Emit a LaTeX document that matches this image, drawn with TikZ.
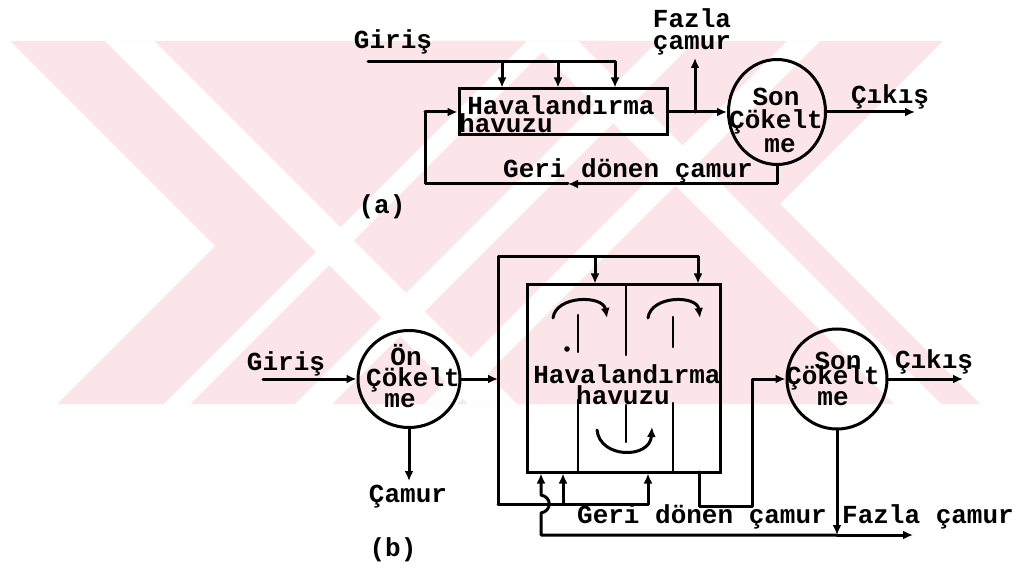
\documentclass[tikz,border=0pt]{standalone}
\usepackage{fontspec}
\setmainfont{Liberation Mono}
\usetikzlibrary{shapes.geometric,arrows.meta}
\definecolor{wmpink}{RGB}{252,229,232}
\begin{document}
\begin{tikzpicture}[x=1pt,y=-1pt,
  line/.style={line width=3pt, line join=round, line cap=round},
  thinline/.style={line width=2.2pt, line cap=round},
  arr/.style={line, -{Latex[length=10pt,width=9pt]}},
  lbl/.style={font=\fontsize{26}{28}\selectfont\bfseries, inner sep=0pt},
  tank/.style={draw, line width=3pt, ellipse, inner sep=0pt},
  basin/.style={draw, line width=3pt, rectangle, inner sep=0pt},
  wm/.style={fill=wmpink, draw=none},
  wmgap/.style={fill=white, draw=none},
]
\useasboundingbox (0,0) rectangle (1021,572);

% ---------------- watermark ----------------
\begin{scope}
\clip (0,41) rectangle (1021,404);
\fill[wm] (10,41) -- (617,41) -- (980,404) -- (373,404) -- cycle;
\fill[wm] (420,41) -- (943,41) -- (580,404) -- (57,404) -- cycle;
\fill[wmgap] (105,41) -- (154,41) -- (517,404) -- (468,404) -- cycle;
\fill[wmgap] (531,41) -- (578,41) -- (941,404) -- (894,404) -- cycle;
\fill[wmgap] (527,41) -- (553,41) -- (190,404) -- (164,404) -- cycle;
\fill[wmgap] (658,41) -- (695,41) -- (332,404) -- (295,404) -- cycle;
\fill[wmgap] (787,41) -- (820,41) -- (457,404) -- (424,404) -- cycle;
\end{scope}

% ---------------- (a) ----------------
\node[basin, minimum width=208pt, minimum height=46pt] (boxA) at (563,112) {};
\node[tank, minimum width=97pt, minimum height=105pt] (sonA) at (777,112) {};

\node[lbl] (tGirA) at (393,42) {Giriş};
\node[lbl] (tHavA) at (561,105) {Havalandırma};
\node[lbl] (tHvzA) at (506,123) {havuzu};
\node[lbl] (tFzA) at (692,18) {Fazla};
\node[lbl] (tCmA) at (692,45) {çamur};
\node[lbl] (tCikA) at (890,97) {Çıkış};
\node[lbl] (tSonA) at (776,97) {Son};
\node[lbl] (tCokA) at (776,122) {Çökelt};
\node[lbl] (tMeA) at (780,146) {me};
\node[lbl] (tGeriA) at (628,171) {Geri dönen çamur};
\node[lbl] (tLa) at (382,207) {(a)};

\coordinate (gA0) at (368,62);
\coordinate (gA1) at (502,62);
\coordinate (gA2) at (558,62);
\coordinate (gA3) at (615,62);
\draw[arr] (gA0) -- (gA3) -- (gA3 |- boxA.north);
\draw[arr] (gA1) -- (gA1 |- boxA.north);
\draw[arr] (gA2) -- (gA2 |- boxA.north);

\draw[arr] (boxA.east) -- (boxA.east -| sonA.west);
\coordinate (fzA) at (695,112);
\coordinate (fzAt) at (695,58);
\draw[arr] (fzA) -- (fzAt);

\coordinate (cikA) at (915,112);
\draw[arr] (sonA.east) -- (cikA);

\coordinate (rA1) at (777,184);
\coordinate (rAm) at (568,184);
\coordinate (rA2) at (425,184);
\coordinate (rA3) at (425,112);
\draw[arr] (sonA.south) -- (rA1) -- (rAm);
\draw[line] (rAm) -- (rA2) -- (rA3);
\draw[arr] (rA3) -- (boxA.west);

% ---------------- (b) ----------------
\node[basin, minimum width=193pt, minimum height=187pt] (boxB) at (623.5,378.5) {};
\node[tank, minimum width=102pt, minimum height=97pt] (onB) at (409,379) {};
\node[tank, minimum width=100pt, minimum height=100pt] (sonB) at (837,379) {};

\node[lbl] (tGirB) at (286,364) {Giriş};
\node[lbl] (tOnB) at (406,355) {Ön};
\node[lbl] (tCokB1) at (413,380) {Çökelt};
\node[lbl] (tMeB1) at (400,401) {me};
\node[lbl] (tCamB) at (408,497) {Çamur};
\node[lbl] (tHavB) at (627,374) {Havalandırma};
\node[lbl] (tHvzB) at (623,395) {havuzu};
\node[lbl] (tSonB) at (838,361) {Son};
\node[lbl] (tCokB2) at (833,378) {Çökelt};
\node[lbl] (tMeB2) at (833,399) {me};
\node[lbl] (tCikB) at (934,362) {Çıkış};
\node[lbl] (tGeriB) at (702,517) {Geri dönen çamur};
\node[lbl] (tFzB) at (928,517) {Fazla çamur};
\node[lbl] (tLb) at (393,550) {(b)};

% inflow
\coordinate (gB0) at (263,379);
\draw[arr] (gB0) -- (gB0 -| onB.west);
\coordinate (camB) at (409,481);
\draw[arr] (onB.south) -- (camB);
\coordinate (frL) at (498,379);
\draw[arr] (onB.east) -- (frL);

% distribution frame
\coordinate (frB) at (498,504);
\coordinate (frT) at (498,257);
\coordinate (frTM) at (595,257);
\coordinate (frTR) at (698,257);
\draw[arr] (frB) -- (frT) -- (frTR) -- (frTR |- boxB.north);
\draw[arr] (frTM) -- (frTM |- boxB.north);
\coordinate (bB1) at (563,504);
\coordinate (bB2) at (648,504);
\draw[arr] (frB) -- (bB2) -- (bB2 |- boxB.south);
\draw[arr] (bB1) -- (bB1 |- boxB.south);

% inner partitions
\draw[thinline] (626,285) -- (626,355);
\draw[thinline] (626,405) -- (626,442);
\draw[thinline] (578,315) -- (578,352);
\draw[thinline] (578,400) -- (578,472);
\draw[thinline] (673,317) -- (673,347);
\draw[thinline] (673,403) -- (673,472);
\fill (567,349) circle (2.8pt);
\draw[arr] (553,318) .. controls (556,295) and (603,295) .. (607,318);
\draw[arr] (648,318) .. controls (651,295) and (697,295) .. (700,318);
\draw[arr] (597,430) .. controls (600,459) and (650,459) .. (652,427);

% return sludge
\coordinate (rB0) at (837,535);
\coordinate (rBL) at (541,535);
\coordinate (rBR) at (913,535);
\coordinate (hop1) at (541,513);
\coordinate (hop2) at (541,495);
\draw[arr] (sonB.south) -- (rB0);
\draw[arr] (rB0) -- (rBL) -- (hop1) .. controls (552,511) and (552,497) .. (hop2) -- (hop2 |- boxB.south);
\draw[arr] (rB0) -- (rBR);

% effluent of basin
\coordinate (eB0) at (699,472);
\coordinate (eB1) at (699,506);
\coordinate (eB2) at (752,506);
\coordinate (eB3) at (752,379);
\draw[arr] (eB0) -- (eB1) -- (eB2) -- (eB3) -- (sonB.west);

\coordinate (cikB) at (963,379);
\draw[arr] (sonB.east) -- (cikB);
\end{tikzpicture}
\end{document}
